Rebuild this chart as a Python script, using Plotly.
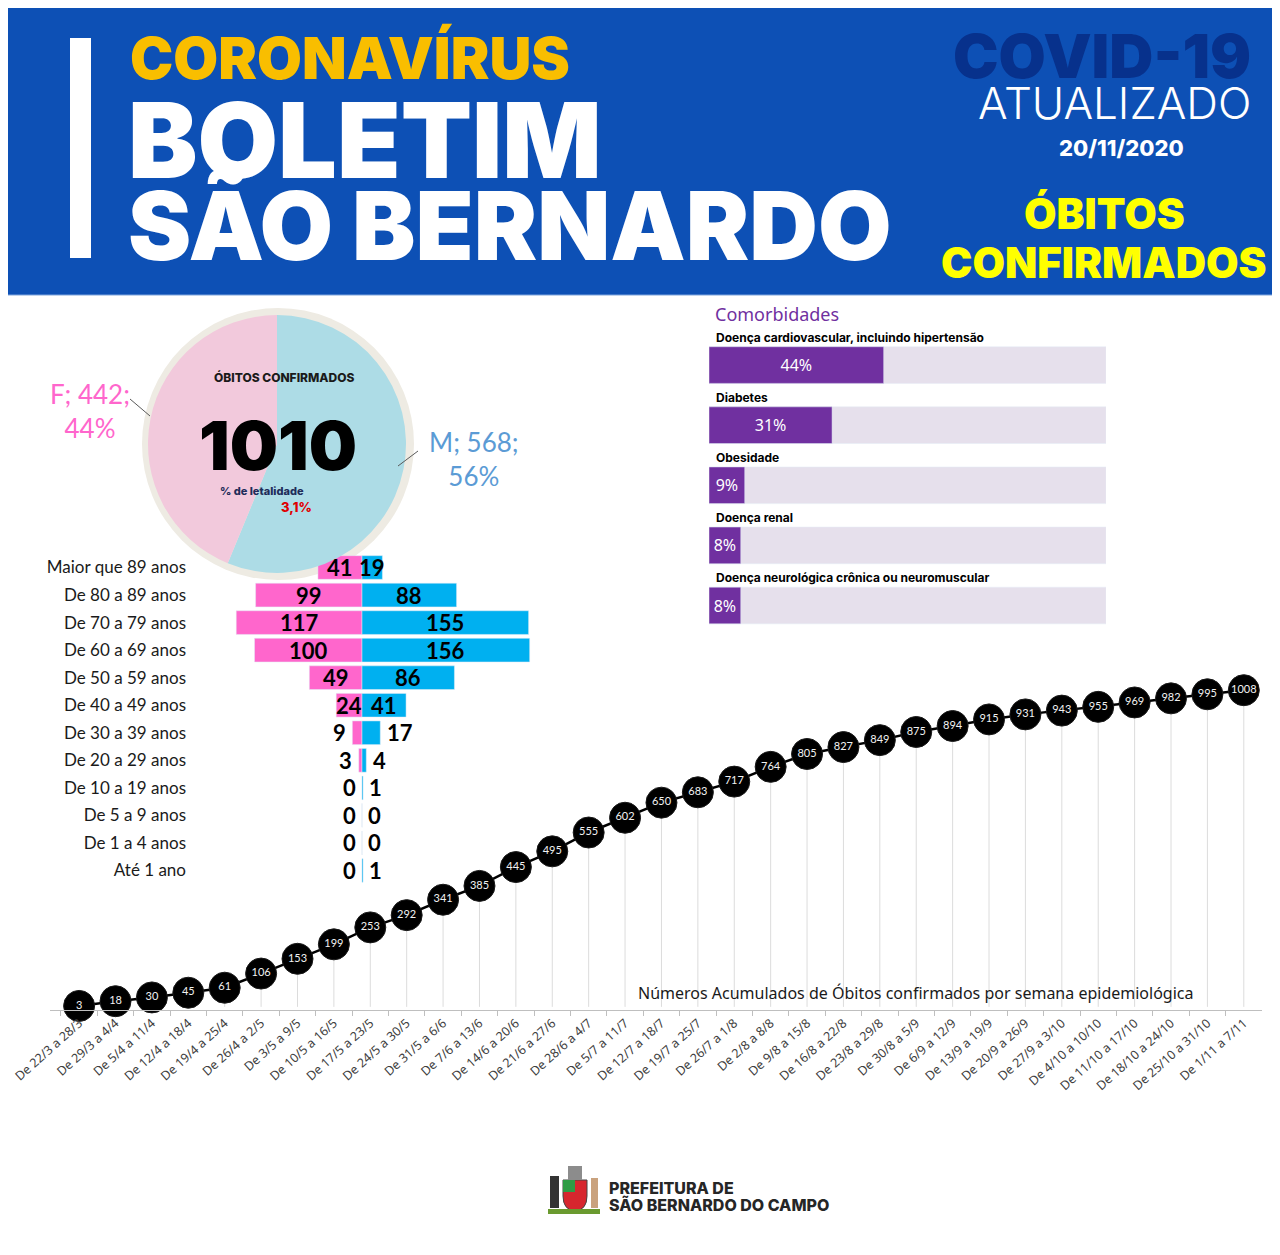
import plotly.graph_objects as go

# a página tem 8px de margem no body: a figura é desenhada a partir de (8, 8)
OFF = 8
W, H = 1280 - OFF, 1255 - OFF

# --- dados ---
semanas = ["De 22/3 a 28/3", "De 29/3 a 4/4", "De 5/4 a 11/4", "De 12/4 a 18/4",
           "De 19/4 a 25/4", "De 26/4 a 2/5", "De 3/5 a 9/5", "De 10/5 a 16/5",
           "De 17/5 a 23/5", "De 24/5 a 30/5", "De 31/5 a 6/6", "De 7/6 a 13/6",
           "De 14/6 a 20/6", "De 21/6 a 27/6", "De 28/6 a 4/7", "De 5/7 a 11/7",
           "De 12/7 a 18/7", "De 19/7 a 25/7", "De 26/7 a 1/8", "De 2/8 a 8/8",
           "De 9/8 a 15/8", "De 16/8 a 22/8", "De 23/8 a 29/8", "De 30/8 a 5/9",
           "De 6/9 a 12/9", "De 13/9 a 19/9", "De 20/9 a 26/9", "De 27/9 a 3/10",
           "De 4/10 a 10/10", "De 11/10 a 17/10", "De 18/10 a 24/10",
           "De 25/10 a 31/10", "De 1/11 a 7/11"]
obitos_acum = [3, 18, 30, 45, 61, 106, 153, 199, 253, 292, 341, 385, 445, 495,
               555, 602, 650, 683, 717, 764, 805, 827, 849, 875, 894, 915, 931,
               943, 955, 969, 982, 995, 1008]

faixas = ["Maior que 89 anos", "De 80 a 89 anos", "De 70 a 79 anos",
          "De 60 a 69 anos", "De 50 a 59 anos", "De 40 a 49 anos",
          "De 30 a 39 anos", "De 20 a 29 anos", "De 10 a 19 anos",
          "De 5 a 9 anos", "De 1 a 4 anos", "Até 1 ano"]
feminino = [41, 99, 117, 100, 49, 24, 9, 3, 0, 0, 0, 0]
masculino = [19, 88, 155, 156, 86, 41, 17, 4, 1, 0, 0, 1]

sexo = ["M", "F"]
sexo_obitos = [568, 442]
total_obitos = 1010
letalidade = "3,1%"

comorbidades = ["Doença cardiovascular, incluindo hipertensão", "Diabetes",
                "Obesidade", "Doença renal",
                "Doença neurológica crônica ou neuromuscular"]
comorb_pct = [44, 31, 9, 8, 8]


def px(x):
    return (x - OFF) / W


def py(y):
    return 1 - (y - OFF) / H


PINK = "#FF66CC"
BLUE = "#00B0F0"
PURPLE = "#7030A0"

fig = go.Figure()

# --- linha de óbitos acumulados ---
fig.add_trace(go.Scatter(
    x=semanas, y=obitos_acum,
    mode="lines+markers+text",
    line=dict(color="black", width=2.5),
    marker=dict(size=31, color="black", line=dict(color="#1a1a1a", width=1)),
    text=[str(v) for v in obitos_acum],
    textposition="middle center",
    textfont=dict(family="Lato", size=11, color="#f2f2f2"),
    error_y=dict(type="data", symmetric=False, array=[0] * len(obitos_acum),
                 arrayminus=obitos_acum, color="#dcdcdc", thickness=1, width=0),
    cliponaxis=False, showlegend=False, hoverinfo="x+y",
    xaxis="x", yaxis="y",
))

# --- pirâmide etária ---
fig.add_trace(go.Bar(
    y=faixas, x=[-v for v in feminino], orientation="h",
    marker=dict(color=PINK), width=0.86, showlegend=False,
    customdata=feminino, hovertemplate="F %{y}: %{customdata}<extra></extra>",
    xaxis="x2", yaxis="y2",
))
fig.add_trace(go.Bar(
    y=faixas, x=masculino, orientation="h",
    marker=dict(color=BLUE), width=0.86, showlegend=False,
    hovertemplate="M %{y}: %{x}<extra></extra>",
    xaxis="x2", yaxis="y2",
))

# --- comorbidades ---
fig.add_trace(go.Bar(
    y=comorbidades, x=[100] * len(comorbidades), orientation="h",
    marker=dict(color="#E6E0EC"), width=0.61, showlegend=False,
    hoverinfo="skip", xaxis="x3", yaxis="y3",
))
fig.add_trace(go.Bar(
    y=comorbidades, x=comorb_pct, orientation="h",
    marker=dict(color=PURPLE), width=0.61, showlegend=False,
    text=[f"{v}%" for v in comorb_pct], textposition="inside",
    insidetextanchor="middle", textangle=0,
    textfont=dict(family="Noto Sans", size=16, color="white"),
    hovertemplate="%{y}: %{x}%<extra></extra>",
    xaxis="x3", yaxis="y3",
))

# --- pizza por sexo ---
fig.add_trace(go.Pie(
    labels=sexo, values=sexo_obitos, sort=False, direction="clockwise",
    rotation=0, textinfo="none", hole=0,
    marker=dict(colors=["#ADDCE6", "#F2C9DC"]),
    domain=dict(x=[px(148), px(406)], y=[py(573), py(315)]),
    showlegend=False,
))

fig.update_layout(
    width=W, height=H,
    margin=dict(l=0, r=0, t=0, b=0, autoexpand=False),
    paper_bgcolor="white", plot_bgcolor="rgba(0,0,0,0)",
    barmode="overlay",
    uniformtext=dict(minsize=10, mode="show"),
    font=dict(family="Lato", color="black"),
    xaxis=dict(domain=[px(50), px(1262)], range=[-0.8, 32.5], type="category",
               tickangle=-42, tickson="boundaries", ticks="outside", ticklen=5,
               tickcolor="#bfbfbf", showline=True, linecolor="#bfbfbf",
               linewidth=1, showgrid=False, zeroline=False, automargin=False,
               tickfont=dict(family="Noto Sans", size=12.5, color="#404040")),
    yaxis=dict(domain=[py(1010), py(677)], range=[-10, 1050], visible=False,
               showgrid=False, automargin=False),
    xaxis2=dict(domain=[px(187), px(540)], range=[-162.8, 165.6], visible=False,
                anchor="y2", automargin=False),
    yaxis2=dict(domain=[py(886), py(552)], autorange="reversed", anchor="x2",
                type="category", showgrid=False, showline=False, ticks="",
                automargin=False,
                tickfont=dict(family="Lato", size=17, color="#1a1a1a")),
    xaxis3=dict(domain=[px(709), px(1106)], range=[0, 100], visible=False,
                anchor="y3", automargin=False),
    yaxis3=dict(domain=[py(643), py(335)], autorange="reversed", anchor="x3",
                type="category", visible=False, automargin=False),
)

shapes = [
    # cabeçalho
    dict(type="rect", xref="paper", yref="paper", x0=px(0), x1=px(1278),
         y0=py(295), y1=py(0), fillcolor="#0D50B5", line=dict(color="#7fa4dc", width=1),
         layer="below"),
    dict(type="rect", xref="paper", yref="paper", x0=px(70), x1=px(91),
         y0=py(258), y1=py(38), fillcolor="white", line_width=0),
    # aro da pizza
    dict(type="circle", xref="paper", yref="paper", x0=px(142), x1=px(414),
         y0=py(580), y1=py(308), fillcolor="#EEEBE3", line_width=0, layer="below"),
    # linhas de chamada
    dict(type="line", xref="paper", yref="paper", x0=px(130), y0=py(399),
         x1=px(150), y1=py(416), line=dict(color="#595959", width=1)),
    dict(type="line", xref="paper", yref="paper", x0=px(398), y0=py(466),
         x1=px(418), y1=py(451), line=dict(color="#595959", width=1)),
    # brasão (simplificado)
    dict(type="path", xref="paper", yref="paper",
         path=f"M {px(563)},{py(1180)} L {px(587)},{py(1180)} L {px(587)},{py(1196)} "
              f"Q {px(587)},{py(1210)} {px(575)},{py(1211)} "
              f"Q {px(563)},{py(1210)} {px(563)},{py(1196)} Z",
         fillcolor="#D7262E", line=dict(color="#444", width=1)),
    dict(type="rect", xref="paper", yref="paper", x0=px(563), x1=px(575),
         y0=py(1192), y1=py(1180), fillcolor="#2E9C45", line_width=0),
    dict(type="rect", xref="paper", yref="paper", x0=px(568), x1=px(582),
         y0=py(1180), y1=py(1166), fillcolor="#8c8c8c", line_width=0),
    dict(type="rect", xref="paper", yref="paper", x0=px(550), x1=px(559),
         y0=py(1208), y1=py(1176), fillcolor="#333333", line_width=0),
    dict(type="rect", xref="paper", yref="paper", x0=px(591), x1=px(598),
         y0=py(1208), y1=py(1178), fillcolor="#c9a27e", line_width=0),
    dict(type="rect", xref="paper", yref="paper", x0=px(548), x1=px(600),
         y0=py(1214), y1=py(1209), fillcolor="#6a9a2f", line_width=0),
]
fig.update_layout(shapes=shapes)

HEAD = "Inter"
ann = [
    dict(text="CORONAVÍRUS", x=px(128), y=py(58), xanchor="left",
         font=dict(family=HEAD, size=58, color="#F9BE00", weight=900)),
    dict(text="BOLETIM", x=px(126), y=py(140), xanchor="left",
         font=dict(family=HEAD, size=104, color="white", weight=900)),
    dict(text="SÃO BERNARDO", x=px(126), y=py(226), xanchor="left",
         font=dict(family=HEAD, size=95, color="white", weight=900)),
    dict(text="COVID-19", x=px(1253), y=py(56), xanchor="right",
         font=dict(family=HEAD, size=61, color="#07318C", weight=900)),
    dict(text="ATUALIZADO", x=px(1253), y=py(103), xanchor="right",
         font=dict(family=HEAD, size=44, color="white", weight=300)),
    dict(text="20/11/2020", x=px(1121), y=py(148),
         font=dict(family=HEAD, size=22, color="white", weight=800)),
    dict(text="ÓBITOS", x=px(1104), y=py(213),
         font=dict(family=HEAD, size=42, color="#FFFF00", weight=900)),
    dict(text="CONFIRMADOS", x=px(1104), y=py(262),
         font=dict(family=HEAD, size=42, color="#FFFF00", weight=900)),
    # pizza
    dict(text="ÓBITOS CONFIRMADOS", x=px(284), y=py(377),
         font=dict(family=HEAD, size=12, color="#1a1a1a", weight=800)),
    dict(text=str(total_obitos), x=px(278), y=py(445),
         font=dict(family=HEAD, size=68, color="black", weight=900)),
    dict(text="% de letalidade", x=px(262), y=py(491),
         font=dict(family=HEAD, size=11, color="#1F2D5A", weight=800)),
    dict(text=letalidade, x=px(296), y=py(507),
         font=dict(family=HEAD, size=13, color="#E00000", weight=800)),
    dict(text=f"{sexo[1]}; {sexo_obitos[1]};<br>{round(100 * sexo_obitos[1] / total_obitos)}%",
         x=px(90), y=py(411), font=dict(family="Lato", size=26, color=PINK)),
    dict(text=f"{sexo[0]}; {sexo_obitos[0]};<br>{round(100 * sexo_obitos[0] / total_obitos)}%",
         x=px(474), y=py(459), font=dict(family="Lato", size=26, color="#5B9BD5")),
    # comorbidades
    dict(text="Comorbidades", x=px(713), y=py(314), xanchor="left",
         font=dict(family="Noto Sans", size=18, color=PURPLE)),
    # linha
    dict(text="Números Acumulados de Óbitos confirmados por semana epidemiológica",
         x=px(636), y=py(993), xanchor="left",
         font=dict(family="Noto Sans", size=16, color="#1a1a1a")),
    # rodapé
    dict(text="PREFEITURA DE", x=px(607), y=py(1188), xanchor="left",
         font=dict(family=HEAD, size=16, color="#262626", weight=800)),
    dict(text="SÃO BERNARDO DO CAMPO", x=px(607), y=py(1205), xanchor="left",
         font=dict(family=HEAD, size=16, color="#262626", weight=800)),
]
for a in ann:
    a.setdefault("xref", "paper")
    a.setdefault("yref", "paper")
    a.setdefault("showarrow", False)
    a.setdefault("xanchor", "center")
    a.setdefault("yanchor", "middle")
    fig.add_annotation(**a)

for nome in comorbidades:
    fig.add_annotation(text=nome, x=px(714), xref="paper", y=nome, yref="y3",
                       yshift=28, xanchor="left", yanchor="middle", showarrow=False,
                       font=dict(family=HEAD, size=12, color="black", weight=700))

# rótulos da pirâmide (como anotações, para ficarem acima da pizza)
rot_font = dict(family="Lato", size=22, color="black", weight=700)
for faixa, f, m in zip(faixas, feminino, masculino):
    if f >= 20:
        fig.add_annotation(text=str(f), x=-f / 2, y=faixa, xanchor="center")
    else:
        fig.add_annotation(text=str(f), x=-f - 4, y=faixa, xanchor="right")
    if m >= 19:
        fig.add_annotation(text=str(m), x=m / 2, y=faixa, xanchor="center")
    else:
        fig.add_annotation(text=str(m), x=m + 4, y=faixa, xanchor="left")
for a in fig.layout.annotations[-2 * len(faixas):]:
    a.update(xref="x2", yref="y2", showarrow=False, yanchor="middle", font=rot_font)

fig.write_html("out.html")
